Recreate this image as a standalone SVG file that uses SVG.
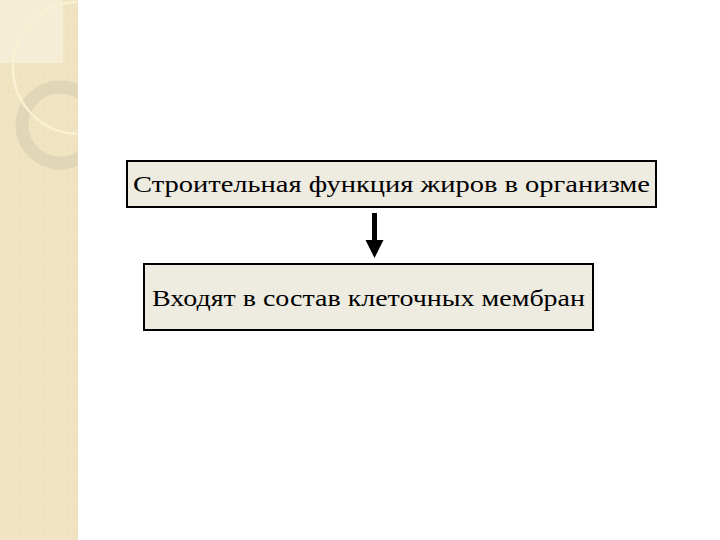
<svg xmlns="http://www.w3.org/2000/svg" width="720" height="540" viewBox="0 0 720 540">
<defs>
<style>
.box{fill:#eeebe1;stroke:#000;stroke-width:2}
.lbl{font-family:"Times New Roman","Liberation Serif",serif;font-size:24px;fill:#000}
</style>
<pattern id="dots" width="6" height="6" patternUnits="userSpaceOnUse">
<rect x="1" y="1" width="2" height="2" fill="#e8d9b2" opacity="0.5"/>
</pattern>
<clipPath id="strip"><rect x="0" y="0" width="78" height="540"/></clipPath>
</defs>
<rect width="720" height="540" fill="#fff"/>
<g id="background" clip-path="url(#strip)">
<rect x="0" y="0" width="78" height="540" fill="#f0e4c2"/>
<rect x="0" y="0" width="78" height="540" fill="url(#dots)"/>
<rect x="0" y="0" width="63" height="63" fill="#f5edd6"/>
<circle cx="60" cy="125" r="38" fill="none" stroke="#dcd2b5" stroke-width="13" opacity="0.8"/>
<circle cx="79" cy="68" r="66" fill="none" stroke="#faf1d4" stroke-width="2.5"/>
<line x1="78" y1="0" x2="78" y2="540" stroke="#e8dab3" stroke-width="1"/>
</g>
<g id="node1">
<rect class="box" x="127" y="161" width="529" height="46"/>
<text class="lbl" x="391" y="192">
<tspan x="133" textLength="517" lengthAdjust="spacingAndGlyphs">Строительная функция жиров в организме</tspan></text>
</g>
<g id="node2">
<rect class="box" x="144" y="264" width="449" height="66"/>
<text class="lbl" x="152" y="306" textLength="433" lengthAdjust="spacingAndGlyphs">Входят в состав клеточных мембран</text>
</g>
<g id="connectors">
<line x1="374.5" y1="213" x2="374.5" y2="242" stroke="#000" stroke-width="5"/>
<path d="M365.5,240 L383.5,240 L374.5,258 Z" fill="#000"/>
</g>
</svg>
